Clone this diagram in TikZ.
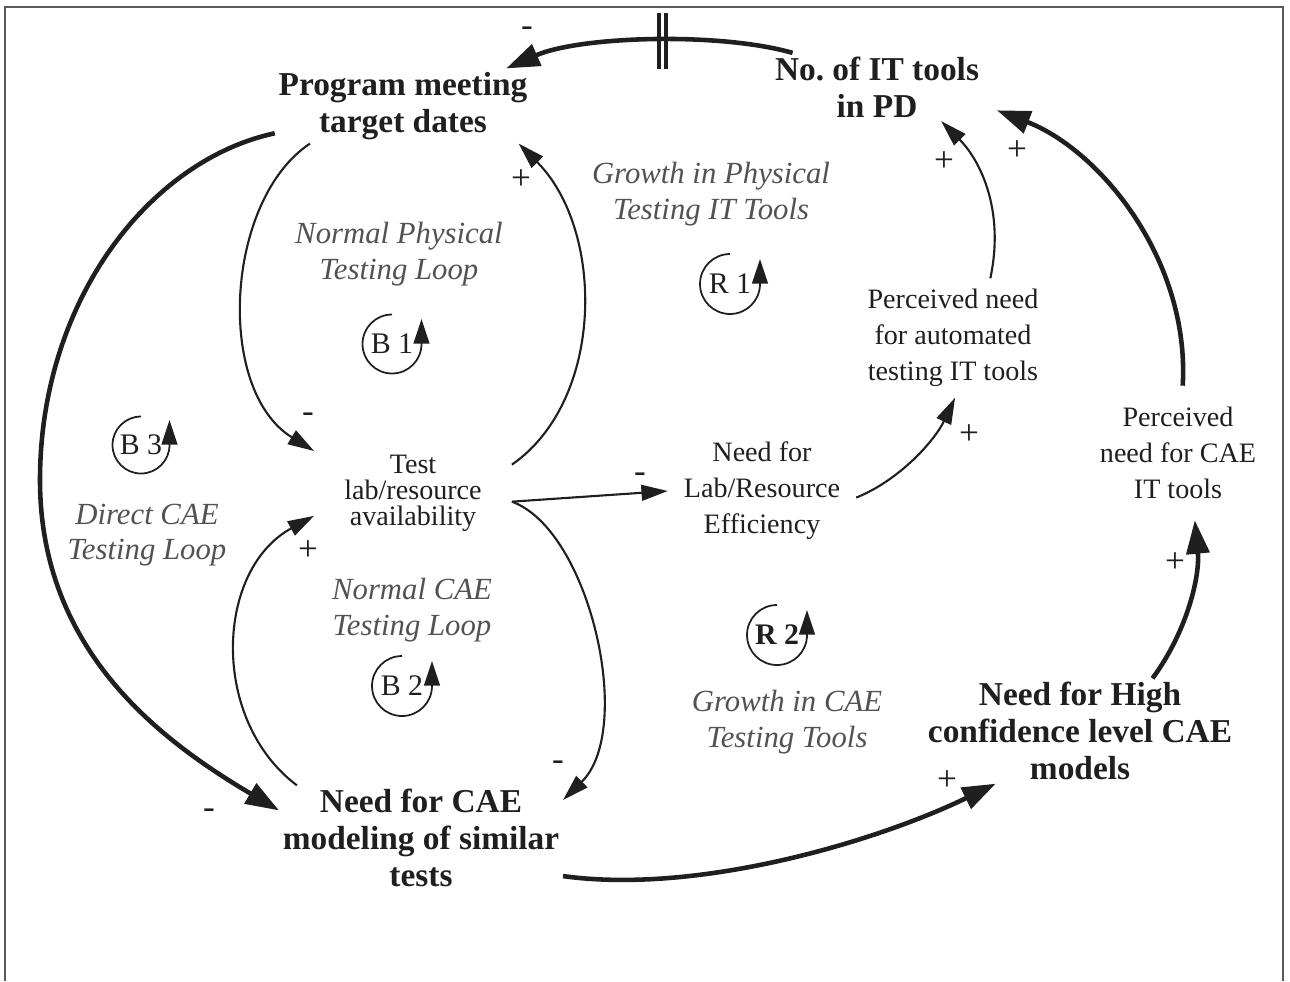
\documentclass[tikz,border=0pt]{standalone}
\usepackage{fontspec}
\setmainfont{Liberation Serif}
\usetikzlibrary{arrows.meta}
\frenchspacing
\begin{document}
\begin{tikzpicture}[x=0.02cm,y=-0.02cm,
  every node/.style={inner sep=2pt, text=black!88},
  keyvar/.style={font=\fontsize{19}{21}\selectfont\bfseries, align=center},
  auxvar/.style={font=\fontsize{16}{20.5}\selectfont, align=center},
  looplabel/.style={font=\fontsize{17.5}{20.2}\selectfont\itshape, align=center, text=black!68},
  sign/.style={font=\fontsize{20}{20}\selectfont, inner sep=0pt},
  link/.style={draw=black!88, line width=1.2pt, -{Triangle[length=15pt,width=9pt]}},
  mainlink/.style={draw=black!88, line width=2.6pt, -{Triangle[length=19pt,width=13pt]}},
  loopmark/.style={font=\fontsize{17}{17}\selectfont, inner sep=0pt},
  looparc/.style={draw=black!88, line width=1pt, -{Triangle[length=14pt,width=9pt]}},
]
\useasboundingbox (0,0) rectangle (1290,981);
% frame
\draw[black!65, line width=1.6pt] (5,981) -- (5,7) -- (1283,7) -- (1283,981);

% variables
\node[keyvar] (PMT) at (403,106) {Program meeting\\target dates};
\node[keyvar, inner xsep=10pt] (IT) at (877,87) {No.\ of IT tools\\in PD};
\node[auxvar, font=\fontsize{16}{14.8}\selectfont, inner xsep=17pt] (Test) at (413,493) {Test\\lab/resource\\availability};
\node[auxvar, inner xsep=9pt] (NLRE) at (762,491) {Need for\\Lab/Resource\\Efficiency};
\node[auxvar, inner ysep=6pt] (PNA) at (953,338) {Perceived need\\for automated\\testing IT tools};
\node[auxvar, inner ysep=12pt] (PNC) at (1178,453) {Perceived\\need for CAE\\IT tools};
\node[keyvar] (NHC) at (1080,731) {Need for High\\confidence level CAE\\models};
\node[keyvar] (NCAE) at (421,838) {Need for CAE\\modeling of similar\\tests};

% loop names
\node[looplabel] (lR1) at (711,194) {Growth in Physical\\Testing IT Tools};
\node[looplabel] (lB1) at (399,254) {Normal Physical\\Testing Loop};
\node[looplabel] (lB3) at (147,535) {Direct CAE\\Testing Loop};
\node[looplabel] (lB2) at (412,610) {Normal CAE\\Testing Loop};
\node[looplabel] (lR2) at (787,722) {Growth in CAE\\Testing Tools};

% loop markers
\newcommand\loopsymbol[4]{%
  \node[loopmark] (#1) at (#2) {#3};
  \draw[looparc] ([shift={(90:#4)}]#1.center) arc[start angle=90,end angle=360,radius=#4] -- ++(0,0.5cm);
}
\loopsymbol{mR1}{730,284}{R 1}{0.6cm}
\loopsymbol{mB1}{392,344}{B 1}{0.59cm}
\loopsymbol{mB3}{141,445}{B 3}{0.57cm}
\loopsymbol{mB2}{402,686}{B 2}{0.6cm}
\loopsymbol{mR2}{777,635}{\bfseries R 2}{0.6cm}

% causal links
\draw[mainlink] (IT.158) .. controls (720,32) and (580,36) .. (PMT.20);
\draw[black!88, line width=2.2pt] (659,13) -- (659,69) (666,13) -- (666,69);
\draw[link] (PMT.202) .. controls (225,200) and (215,390) .. (Test.157);
\draw[link] (Test.16) .. controls (605,400) and (605,230) .. (PMT.-18);
\draw[link] (Test.-5) -- (NLRE.west);
\draw[link] (Test.-5) .. controls (590,530) and (635,730) .. (NCAE.15);
\draw[link] (NCAE.157) .. controls (210,720) and (215,570) .. (Test.193);
\draw[mainlink] (PMT.192) .. controls (150,160) and (40,300) .. (40,480)
                .. controls (40,650) and (160,740) .. (NCAE.169);
\draw[mainlink] (NCAE.-15) .. controls (700,895) and (880,840) .. (NHC.212);
\draw[mainlink] (NHC.36) .. controls (1188,630) and (1200,575) .. (PNC.-76);
\draw[mainlink] (PNC.86) .. controls (1190,260) and (1100,150) .. (IT.-11);
\draw[link] (NLRE.-4) .. controls (900,480) and (935,440) .. (PNA.-88);
\draw[link] (PNA.58) .. controls (1005,210) and (980,160) .. (IT.-28);

% polarities
\node[sign] (s1) at (527,32) {-};
\node[sign] (s2) at (521,180) {+};
\node[sign] (s3) at (308,418) {-};
\node[sign] (s4) at (308,551) {+};
\node[sign] (s5) at (640,478) {-};
\node[sign] (s6) at (558,766) {-};
\node[sign] (s7) at (209,814) {-};
\node[sign] (s8) at (947,781) {+};
\node[sign] (s9) at (1175,563) {+};
\node[sign] (s10) at (1017,151) {+};
\node[sign] (s11) at (944,162) {+};
\node[sign] (s12) at (969,435) {+};
\end{tikzpicture}
\end{document}
